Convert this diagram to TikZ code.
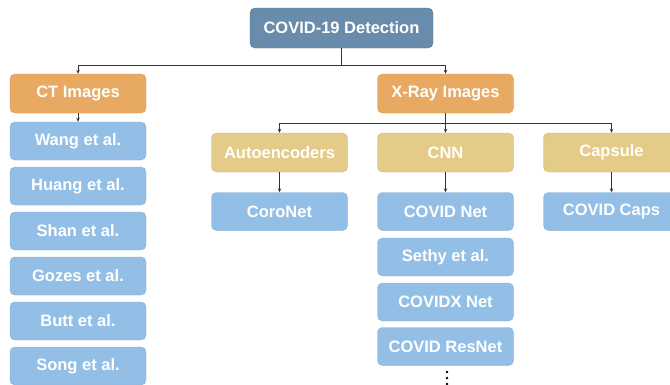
\documentclass[tikz,border=0pt]{standalone}
\usepackage{fontspec}
\setmainfont{Liberation Sans}
\usetikzlibrary{arrows.meta}
\definecolor{topc}{HTML}{6A8CAC}
\definecolor{orc}{HTML}{E8AA62}
\definecolor{tanc}{HTML}{E5CB88}
\definecolor{bluec}{HTML}{93BFE6}
\tikzset{
  box/.style={rounded corners=5pt, minimum width=#1, minimum height=38pt, inner sep=0pt,
     text=white, font=\fontsize{16.5}{18}\selectfont\bfseries},
  box/.default=136pt,
  topbox/.style={box=183pt, fill=topc, draw=topc!85!black, minimum height=40pt},
  orbox/.style={box, fill=orc, draw=orc!90!black, minimum height=39pt},
  tanbox/.style={box, fill=tanc, draw=tanc!90!black, minimum height=39pt},
  bluebox/.style={box, fill=bluec, draw=bluec!90!black},
  conn/.style={draw=black!80, line width=0.8pt},
  arr/.style={conn, -{Stealth[length=4pt,width=3.5pt]}},
  dot/.style={fill=black, circle, inner sep=0pt, minimum size=2.6pt}
}
\begin{document}
\begin{tikzpicture}[x=1pt,y=-1pt]
\useasboundingbox (0,0) rectangle (670,384);
\begin{scope}
\clip (0,0) rectangle (670,384);
\node[topbox] (top) at (341.5,28) {COVID-19 Detection};
\node[orbox] (ct) at (78,93.5) {CT Images};
\node[orbox] (xr) at (445.5,93.5) {X-Ray Images};
\node[tanbox] (ae) at (279.5,152.5) {Autoencoders};
\node[tanbox] (cnn) at (445.5,152.5) {CNN};
\node[tanbox] (cap) at (611.5,152.5) {Capsule};
\node[bluebox] (coro) at (279.5,211.5) {CoroNet};
\node[bluebox] (cnet) at (445.5,211.5) {COVID Net};
\node[bluebox] (sethy) at (445.5,257) {Sethy et al.};
\node[bluebox] (cxnet) at (445.5,302) {COVIDX Net};
\node[bluebox] (resnet) at (445.5,346.5) {COVID ResNet};
\node[bluebox] (caps) at (611.5,211.5) {COVID Caps};
\node[bluebox] (wang) at (78,141) {Wang et al.};
\node[bluebox] (huang) at (78,186) {Huang et al.};
\node[bluebox] (shan) at (78,231) {Shan et al.};
\node[bluebox] (gozes) at (78,276) {Gozes et al.};
\node[bluebox] (butt) at (78,321) {Butt et al.};
\node[bluebox] (song) at (78,366) {Song et al.};
\node[dot] (d1) at (447,372) {};
\node[dot] (d2) at (447,378) {};
\node[dot] (d3) at (447,384) {};
\end{scope}
\coordinate (j1) at (top.south |- 0,65);
\coordinate (j2) at (xr.south |- 0,123);
\draw[conn] (top.south) -- (j1);
\draw[arr] (j1) -| (ct.north);
\draw[arr] (j1) -| (xr.north);
\draw[arr] (ct.south) -- (wang.north);
\draw[conn] (xr.south) -- (j2);
\draw[arr] (j2) -| (ae.north);
\draw[arr] (j2) -- (cnn.north);
\draw[arr] (j2) -| (cap.north);
\draw[arr] (ae.south) -- (coro.north);
\draw[arr] (cnn.south) -- (cnet.north);
\draw[arr] (cap.south) -- (caps.north);
\end{tikzpicture}
\end{document}
